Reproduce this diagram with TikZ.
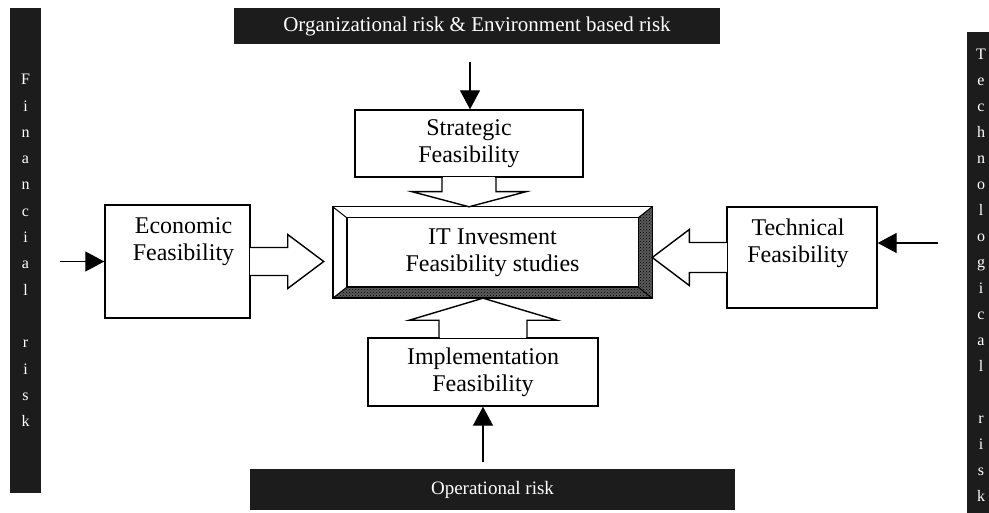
\documentclass[tikz,border=0pt]{standalone}
\usepackage{fontspec}
\setmainfont{Liberation Serif}
\usetikzlibrary{positioning, arrows.meta, calc, patterns}
\definecolor{barfill}{HTML}{1C1C1C}
\definecolor{bevel}{HTML}{5A5A5A}

\begin{document}
\begin{tikzpicture}[
    x=1pt, y=1pt,
    fbox/.style={rectangle, draw, fill=white, line width=1.4pt, inner sep=0pt},
    lbl/.style={font=\fontsize{24}{27}\selectfont, align=center},
    riskbar/.style={rectangle, fill=barfill, text=white, inner sep=0pt, align=center},
    feed/.style={-{Triangle[length=19pt, width=20pt]}, line width=1.3pt},
    block/.style={draw, line width=1.4pt, line join=miter}
  ]
  \useasboundingbox (0,0) rectangle (989,513);

  % risk bars around the diagram
  \node[riskbar, minimum width=486, minimum height=36, font=\fontsize{21}{24}\selectfont] (orgrisk) at (477,487) {Organizational risk \& Environment based risk};
  \node[riskbar, minimum width=485, minimum height=41, font=\fontsize{19}{22}\selectfont] (oprisk) at (492.5,23.5) {Operational risk};
  \node[riskbar, minimum width=31, minimum height=485, font=\fontsize{16}{26.3}\selectfont] (finrisk) at (25.5,262.5) {F\\i\\n\\a\\n\\c\\i\\a\\l\\~\\r\\i\\s\\k};
  \node[riskbar, minimum width=28, minimum height=486, font=\fontsize{16}{26}\selectfont] (techrisk) at (981,238) {T\\e\\c\\h\\n\\o\\l\\o\\g\\i\\c\\a\\l\\~\\r\\i\\s\\k};

  % feasibility boxes
  \node[fbox, lbl, minimum width=228, minimum height=67] (strat) at (469,369.5) {Strategic\\Feasibility};
  \node[fbox, minimum width=145, minimum height=113] (econ) at (177.5,251.5) {};
  \node[lbl] (econtxt) at ($(econ.center)+(6,19.5)$) {Economic\\Feasibility};
  \node[fbox, minimum width=150, minimum height=101] (tech) at (802,255.5) {};
  \node[lbl] (techtxt) at ($(tech.center)+(-4,14.5)$) {Technical\\Feasibility};
  \node[fbox, lbl, minimum width=230, minimum height=68] (impl) at (483,141) {Implementation\\Feasibility};

  % central box with bevelled frame
  \node[lbl, minimum width=319, minimum height=91] (hub) at (492.5,260.5) {IT Invesment\\Feasibility studies};
  \fill[bevel, postaction={pattern=crosshatch dots, pattern color=black}]
    (hub.south west) -- (hub.south east) -- (hub.north east) -- ($(hub.north east)+(-14,-11)$)
    -- ($(hub.south east)+(-14,11)$) -- ($(hub.south west)+(14,11)$) -- cycle;
  \draw[line width=1.4pt] (hub.south west) rectangle (hub.north east);
  \draw[line width=1.4pt] ($(hub.south west)+(14,11)$) rectangle ($(hub.north east)+(-14,-11)$);
  \draw[line width=1pt] (hub.south west) -- ++(14,11) (hub.north west) -- ++(14,-11)
    (hub.north east) -- ++(-14,-11) (hub.south east) -- ++(-14,11);

  % block arrows into the central box
  \fill[white] ($(econ.east)+(-1,-13.3)$) rectangle ($(econ.east)+(1,13.3)$);
  \draw[block] ($(econ.east)+(0,14)$) -- ++(37,0) -- ++(0,13) -- ($(econ.east)+(73,0)$)
    -- ($(econ.east)+(37,-27)$) -- ++(0,13) -- ($(econ.east)+(0,-14)$);
  \fill[white] ($(tech.west)+(-1,-14.3)$) rectangle ($(tech.west)+(1,14.3)$);
  \draw[block] ($(tech.west)+(0,15)$) -- ++(-37,0) -- ++(0,13) -- (hub.east |- tech.west)
    -- ($(tech.west)+(-37,-28)$) -- ++(0,13) -- ($(tech.west)+(0,-15)$);
  \fill[white] ($(strat.south)+(-26.3,-1)$) rectangle ($(strat.south)+(26.3,1)$);
  \draw[block] ($(strat.south)+(-27,0)$) -- ++(0,-14) -- ++(-30,0) -- (strat.south |- hub.north)
    -- ($(strat.south)+(57,-14)$) -- ++(-30,0) -- ($(strat.south)+(27,0)$);
  \fill[white] ($(impl.north)+(-43.3,-1)$) rectangle ($(impl.north)+(43.3,1)$);
  \draw[block] ($(impl.north)+(-44,0)$) -- ++(0,17) -- ++(-30,0) -- (impl.north |- hub.south)
    -- ($(impl.north)+(74,17)$) -- ++(-30,0) -- ($(impl.north)+(44,0)$);

  % risk inputs
  \coordinate (orgin) at (470,451);
  \coordinate (finin) at (60,251.5);
  \coordinate (techin) at (938,270);
  \coordinate (opin) at (483,51);
  \draw[feed] (orgin) -- (orgin |- strat.north);
  \draw[feed] (finin) -- (econ.west);
  \draw[feed] (techin) -- (techin -| tech.east);
  \draw[feed] (opin) -- (impl.south);
\end{tikzpicture}
\end{document}
